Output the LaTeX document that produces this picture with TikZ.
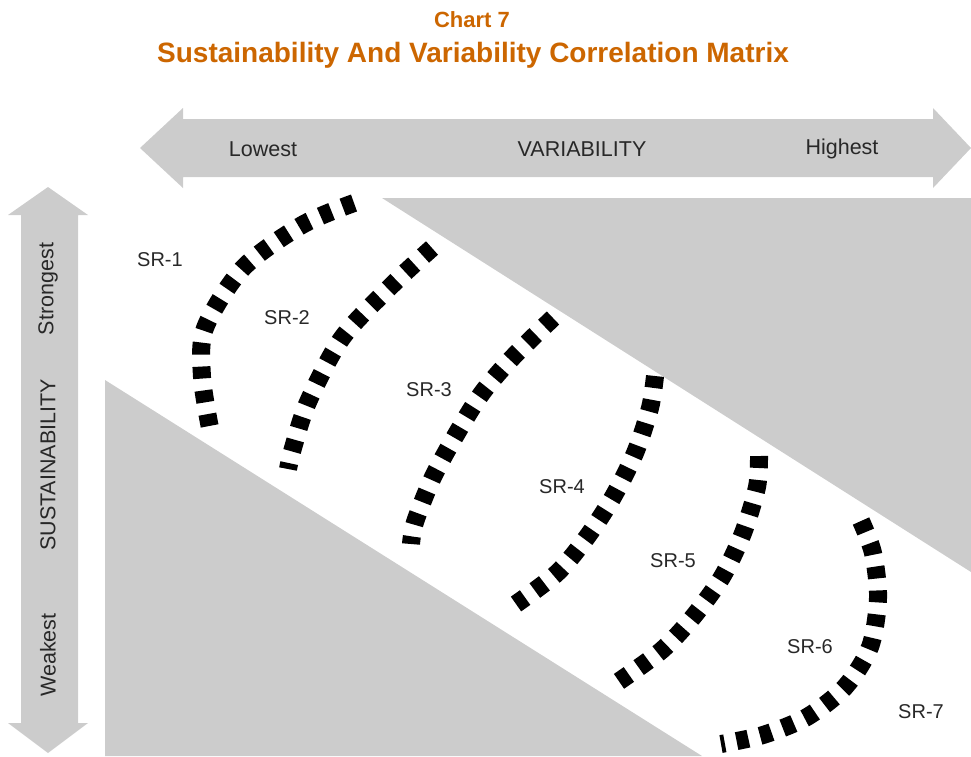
\documentclass[tikz,border=0pt]{standalone}
\usepackage{fontspec}
\setmainfont{Liberation Sans}
\definecolor{bandgray}{RGB}{204,204,204}
\definecolor{titleorange}{RGB}{204,102,0}
\definecolor{labeltext}{RGB}{40,40,40}
\begin{document}
\begin{tikzpicture}[x=1pt,y=-1pt,
  band/.style={fill=bandgray, draw=none},
  srcurve/.style={draw=black, line width=18pt, dash pattern=on 12pt off 12pt},
  srlabel/.style={text=labeltext, font=\fontsize{20}{24}\selectfont, inner sep=0pt},
  axislabel/.style={text=labeltext, font=\fontsize{21.5}{25}\selectfont, inner sep=0pt},
  titletext/.style={text=titleorange, inner sep=0pt, anchor=base},
  ]
\useasboundingbox (0,0) rectangle (971,756);

% title
\node[titletext, font=\bfseries\fontsize{22}{26}\selectfont] (title1) at (472,27) {Chart 7};
\node[titletext, font=\bfseries\fontsize{28}{32}\selectfont] (title2) at (473,62) {Sustainability And Variability Correlation Matrix};

% grey bands
\fill[band] (382,198) -- (971,198) -- (971,572) -- cycle;
\fill[band] (105,380) -- (105,756) -- (702,756) -- cycle;

% horizontal double arrow
\fill[band] (140,148) -- (183,108) -- (183,119) -- (933,119) -- (933,108) -- (971,148)
  -- (933,188) -- (933,177) -- (183,177) -- (183,188) -- cycle;
% vertical double arrow
\fill[band] (48,187) -- (88,215) -- (78,215) -- (78,723) -- (88,723) -- (48,753)
  -- (8,723) -- (21,723) -- (21,215) -- (8,215) -- cycle;

% axis labels
\node[axislabel] (lowest) at (263,149) {Lowest};
\node[axislabel] (variability) at (582,149) {VARIABILITY};
\node[axislabel] (highest) at (842,149) {Highest};
\node[axislabel, rotate=90] (strongest) at (48,289) {Strongest};
\node[axislabel, rotate=90] (sustain) at (48,465) {SUSTAINABILITY};
\node[axislabel, rotate=90] (weakest) at (48,655) {Weakest};

% dashed curves
\draw[srcurve] plot[smooth] coordinates {(354,203) (302,225) (243,268) (205,328) (202,377) (210,428)};
\draw[srcurve] plot[smooth] coordinates {(432,248) (392,285) (342,338) (308,402) (293,448) (288,469)};
\draw[srcurve] plot[smooth] coordinates {(553,318) (513,357) (482,393) (457,433) (433,477) (415,522) (411,544)};
\draw[srcurve] plot[smooth] coordinates {(655,376) (650,408) (635,453) (613,497) (587,537) (557,573) (516,604)};
\draw[srcurve] plot[smooth] coordinates {(759,456) (757,487) (743,533) (722,577) (693,617) (662,650) (618,682)};
\draw[srcurve] plot[smooth] coordinates {(861,521) (873,553) (878,598) (870,647) (845,687) (807,717) (763,735) (721,744)};

% SR labels
\node[srlabel] (sr1) at (160,260) {SR-1};
\node[srlabel] (sr2) at (287,318) {SR-2};
\node[srlabel] (sr3) at (429,390) {SR-3};
\node[srlabel] (sr4) at (562,487) {SR-4};
\node[srlabel] (sr5) at (673,561) {SR-5};
\node[srlabel] (sr6) at (810,647) {SR-6};
\node[srlabel] (sr7) at (921,712) {SR-7};
\end{tikzpicture}
\end{document}
